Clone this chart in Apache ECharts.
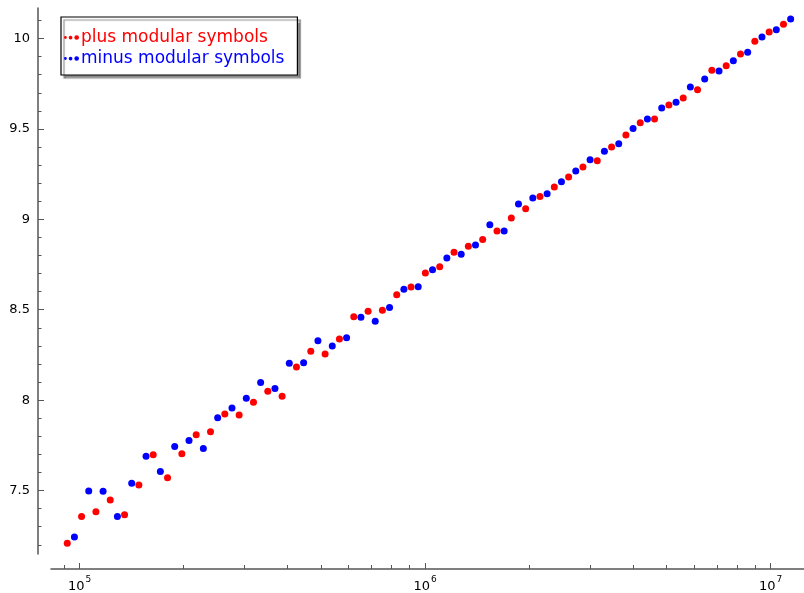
<!DOCTYPE html>
<html>
<head>
<meta charset="utf-8">
<script src="https://cdn.jsdelivr.net/npm/echarts@6/dist/echarts.min.js"></script>
<style>html,body{margin:0;padding:0;background:#fff}#c{width:804px;height:593px}</style>
</head>
<body>
<div id="c"></div>
<script>
// x positions, alternating plus / minus
const plusX = [92050,101270,111420,122580,134860,148370,163240,179590,197580,217370,239150,263090,289440,318440,350340,385440,424080,466560,513300,564720,621290,683540,752010,827350,910230,1001400,1101700,1212100,1333500,1467100,1614100,1775700,1953600,2149300,2364600,2601400,2862000,3148700,3464200,3811200,4193000,4613000,5075200,5583600,6143000,6758400,7435400,8180300,8999800,9901400,10893300];
const plusY = [7.208,7.357,7.383,7.447,7.366,7.530,7.698,7.571,7.704,7.809,7.825,7.923,7.918,7.988,8.049,8.021,8.183,8.270,8.255,8.338,8.461,8.491,8.497,8.583,8.626,8.703,8.738,8.818,8.851,8.889,8.935,9.007,9.059,9.127,9.179,9.234,9.290,9.324,9.400,9.466,9.534,9.555,9.632,9.671,9.717,9.824,9.850,9.914,9.985,10.036,10.079];
const minusX = [96550,106220,116870,128580,141460,155630,171220,188370,207240,228000,250830,275950,303600,334010,367470,404310,444810,489370,538400,592330,651670,716960,788780,867800,954740,1050400,1155600,1271400,1398700,1538800,1692900,1862500,2049100,2254400,2480200,2728600,3001900,3302700,3633500,3997500,4398000,4838600,5323300,5856600,6443300,7088800,7798900,8580300,9439800,10385500,11425000];
const minusY = [7.243,7.497,7.496,7.357,7.540,7.689,7.605,7.744,7.777,7.733,7.903,7.956,8.010,8.098,8.065,8.204,8.207,8.329,8.299,8.345,8.458,8.437,8.513,8.613,8.627,8.721,8.786,8.807,8.858,8.970,8.935,9.085,9.118,9.142,9.208,9.267,9.329,9.376,9.418,9.503,9.555,9.616,9.647,9.732,9.776,9.820,9.877,9.924,10.008,10.049,10.108];
const seriesNames = ['plus modular symbols', 'minus modular symbols'];
const xMajorTicks = [1e5, 1e6, 1e7];
const xMinorTicks = [90000, 200000, 300000, 400000, 500000, 600000, 700000, 800000, 900000, 2000000, 3000000, 4000000, 5000000, 6000000, 7000000, 8000000, 9000000];
const yMajorTicks = [7.5, 8, 8.5, 9, 9.5, 10];
const yMinorTicks = [7.2, 7.3, 7.4, 7.6, 7.7, 7.8, 7.9, 8.1, 8.2, 8.3, 8.4, 8.6, 8.7, 8.8, 8.9, 9.1, 9.2, 9.3, 9.4, 9.6, 9.7, 9.8, 9.9, 10.1];

const X_MIN = 82600, X_MAX = 12490000, Y_MIN = 7.149, Y_MAX = 10.169;
const FONT = 'DejaVu Sans';
const AXIS_COLOR = '#555';

function zip(xs, ys) { return xs.map((x, i) => [x, ys[i]]); }

const dotsIcon = 'path://M0,3a1.5,1.5 0 1,0 3,0a1.5,1.5 0 1,0 -3,0Z M5,3a2,2 0 1,0 4,0a2,2 0 1,0 -4,0Z M11,3a2.5,2.5 0 1,0 5,0a2.5,2.5 0 1,0 -5,0Z';

const chart = echarts.init(document.getElementById('c'));
chart.setOption({
  animation: false,
  backgroundColor: '#fff',
  grid: { left: 51, right: 0, top: 8, bottom: 39 },
  legend: {
    orient: 'vertical',
    left: 61, top: 17,
    padding: [12, 13, 8, 3],
    itemGap: 4,
    itemWidth: 15, itemHeight: 6,
    backgroundColor: '#fff',
    borderColor: '#000', borderWidth: 1.2,
    shadowColor: 'rgba(0,0,0,0.45)', shadowBlur: 1, shadowOffsetX: 3, shadowOffsetY: 3,
    textStyle: { fontFamily: FONT, fontSize: 17, padding: [0, 0, 0, -3] },
    data: [
      { name: seriesNames[0], icon: dotsIcon, textStyle: { color: '#ff0000' } },
      { name: seriesNames[1], icon: dotsIcon, textStyle: { color: '#0000ff' } }
    ]
  },
  xAxis: [{
    type: 'log', logBase: 10, min: X_MIN, max: X_MAX, position: 'bottom', offset: 15,
    axisLine: { show: true, lineStyle: { color: AXIS_COLOR, width: 1.5 } },
    axisTick: { show: true, inside: true, length: 6, customValues: xMajorTicks, lineStyle: { color: AXIS_COLOR, width: 1 } },
    axisLabel: {
      customValues: xMajorTicks, margin: 6, color: '#000',
      formatter: v => '{b|10}{s|' + Math.round(Math.log10(v)) + '}',
      rich: {
        b: { fontFamily: FONT, fontSize: 13, color: '#000', verticalAlign: 'bottom', lineHeight: 18 },
        s: { fontFamily: FONT, fontSize: 9, color: '#000', verticalAlign: 'top', lineHeight: 18, padding: [0, 0, 0, 1] }
      }
    },
    splitLine: { show: false }, minorTick: { show: false }
  }, {
    type: 'log', logBase: 10, min: X_MIN, max: X_MAX, position: 'bottom', offset: 15,
    axisLine: { show: false },
    axisTick: { show: true, inside: true, length: 4, customValues: xMinorTicks, lineStyle: { color: AXIS_COLOR, width: 1 } },
    axisLabel: { show: false },
    splitLine: { show: false }
  }],
  yAxis: [{
    type: 'value', min: Y_MIN, max: Y_MAX, position: 'left', offset: 13,
    axisLine: { show: true, lineStyle: { color: AXIS_COLOR, width: 1.5 } },
    axisTick: { show: true, inside: true, length: 6, customValues: yMajorTicks, lineStyle: { color: AXIS_COLOR, width: 1 } },
    axisLabel: { customValues: yMajorTicks, margin: 8, color: '#000', fontFamily: FONT, fontSize: 13 },
    splitLine: { show: false }
  }, {
    type: 'value', min: Y_MIN, max: Y_MAX, position: 'left', offset: 13,
    axisLine: { show: false },
    axisTick: { show: true, inside: true, length: 3.5, customValues: yMinorTicks, lineStyle: { color: AXIS_COLOR, width: 1 } },
    axisLabel: { show: false },
    splitLine: { show: false }
  }],
  series: [{
    name: seriesNames[0], type: 'scatter', symbol: 'circle', symbolSize: 7,
    itemStyle: { color: '#ff0000', opacity: 1 }, data: zip(plusX, plusY), z: 3
  }, {
    name: seriesNames[1], type: 'scatter', symbol: 'circle', symbolSize: 7,
    itemStyle: { color: '#0000ff', opacity: 1 }, data: zip(minusX, minusY), z: 3
  }]
});
</script>
</body>
</html>
